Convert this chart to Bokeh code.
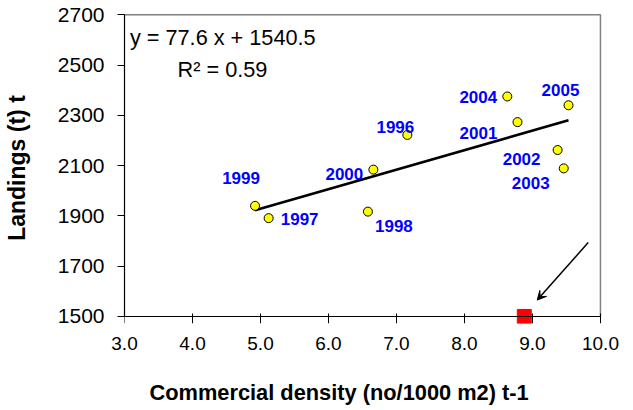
import math
from bokeh.plotting import figure
from bokeh.models import (Range1d, Label, Arrow, VeeHead, FixedTicker, ColumnDataSource, Title,
                          LinearAxis)
from bokeh.core.properties import value
from bokeh.embed import file_html
from bokeh.resources import INLINE

# ---- data ----
years = ["1996", "1997", "1998", "1999", "2000", "2001", "2002", "2003", "2004", "2005"]
density = [7.16, 5.12, 6.58, 4.92, 6.66, 8.78, 9.37, 9.46, 8.63, 9.53]
landings = [2222, 1891, 1917, 1940, 2084, 2273, 2162, 2089, 2375, 2340]
slope = 77.6
intercept = 1540.5
r_squared = 0.59
forecast_density = [8.88]
forecast_landings = [1500]
x_ticks = [3, 4, 5, 6, 7, 8, 9, 10]
y_ticks = [1500, 1700, 1900, 2100, 2300, 2500, 2700]
x_title = "Commercial density (no/1000 m2) t-1"
y_title = "Landings (t) t"

# label offsets (screen px) for the year labels
label_dx = [-12, 31, 26, -14, -29, -39, -36, -33, -29, -8]
label_dy = [-8, 1, 14, -28, 4, 11, 9, 15, 1, -15]

FONT = "Liberation Sans"
xmin, xmax = min(x_ticks), max(x_ticks)
ymin, ymax = min(y_ticks), max(y_ticks)

p = figure(width=625, height=409, output_backend="svg", toolbar_location=None,
           x_range=Range1d(xmin, xmax + 0.03), y_range=Range1d(ymin - 28, ymax + 9),
           min_border_left=124, min_border_right=23, min_border_top=12, min_border_bottom=86)
p.background_fill_color = "white"
p.border_fill_color = "white"
p.outline_line_color = None
p.xgrid.visible = False
p.ygrid.visible = False

# x axis line + ticks at y = 1500 (drawn from the top panel so it takes no bottom space)
xa = LinearAxis(ticker=FixedTicker(ticks=x_ticks), bounds=(xmin, xmax), fixed_location=ymin,
                axis_line_color="black", axis_line_width=1.2,
                major_tick_line_color="black", minor_tick_line_color=None,
                major_tick_out=3, major_tick_in=7,
                major_label_text_color=None, major_label_text_font_size="1px",
                major_label_standoff=0)

# x tick labels (axis without line / ticks)
xl = p.xaxis[0]
xl.ticker = FixedTicker(ticks=x_ticks)
xl.bounds = (xmin, xmax)
xl.axis_line_color = None
xl.major_tick_line_color = None
xl.minor_tick_line_color = None
xl.major_tick_out = 0
xl.major_tick_in = 0
xl.major_label_standoff = 13
xl.major_label_text_font = FONT
xl.major_label_text_font_size = "19px"
xl.major_label_text_color = "black"
xl.major_label_overrides = {t: f"{t:.1f}" for t in x_ticks}

# blank spacer between the tick labels and the x title
spacer = LinearAxis(ticker=FixedTicker(ticks=[xmin]), bounds=(xmin, xmax),
                    axis_line_color=None, major_tick_line_color=None, minor_tick_line_color=None,
                    major_tick_out=25, major_tick_in=0, major_label_standoff=0,
                    major_label_text_color=None, major_label_text_font_size="1px")

ya = p.yaxis[0]
ya.ticker = FixedTicker(ticks=y_ticks)
ya.bounds = (ymin, ymax)
ya.axis_line_color = "black"
ya.axis_line_width = 1.2
ya.major_tick_line_color = "black"
ya.minor_tick_line_color = None
ya.major_tick_out = 7
ya.major_tick_in = 0
ya.major_label_standoff = 13
ya.major_label_text_font = FONT
ya.major_label_text_font_size = "21px"
ya.major_label_text_color = "black"
ya.axis_label = y_title
ya.axis_label_standoff = 25
ya.axis_label_text_font = FONT
ya.axis_label_text_font_size = "23px"
ya.axis_label_text_font_style = "bold"
ya.axis_label_text_color = "black"

# plot-area border (top and right)
p.line([xmin, xmax, xmax], [ymax, ymax, ymin], line_color="#808080", line_width=1.5)

# trend line
x0, x1 = min(density), max(density)
p.line([x0, x1], [slope * x0 + intercept, slope * x1 + intercept], line_color="black", line_width=2.6)

# points
src = ColumnDataSource(dict(x=density, y=landings, t=years, dx=label_dx, dy=label_dy))
p.scatter("x", "y", source=src, size=9, fill_color="#FFFF00", line_color="black", line_width=1)
p.text("x", "y", text="t", source=src, x_offset="dx", y_offset="dy",
       text_font=value(FONT), text_font_style="bold", text_font_size="17px",
       text_color="#0000FF", text_align="center", text_baseline="middle")

# forecast square
p.scatter(forecast_density, forecast_landings, marker="square", size=14,
          fill_color="#FF0000", line_color="#FF0000")

# arrow
p.add_layout(Arrow(end=VeeHead(size=9, line_color="black", fill_color="black"),
                   x_start=9.82, y_start=1794, x_end=9.07, y_end=1565,
                   line_color="black", line_width=1.5))

# equation
p.add_layout(Label(x=3.08, y=2611, text=f"y = {slope} x + {intercept}", text_color="black",
                   text_font=FONT, text_font_size="21.7px", text_baseline="middle", text_align="left"))
p.add_layout(Label(x=3.78, y=2483, text=f"R\u00b2 = {r_squared}", text_color="black",
                   text_font=FONT, text_font_size="21.7px", text_baseline="middle", text_align="left"))

# x axis title
xt = Title(text=x_title, align="left", offset=25, standoff=0,
           text_font=FONT, text_font_size="21.8px", text_font_style="bold", text_color="black")
p.below = [xl, spacer, xt]
p.above = [xa]

open("out.html", "w").write(file_html(p, INLINE))
